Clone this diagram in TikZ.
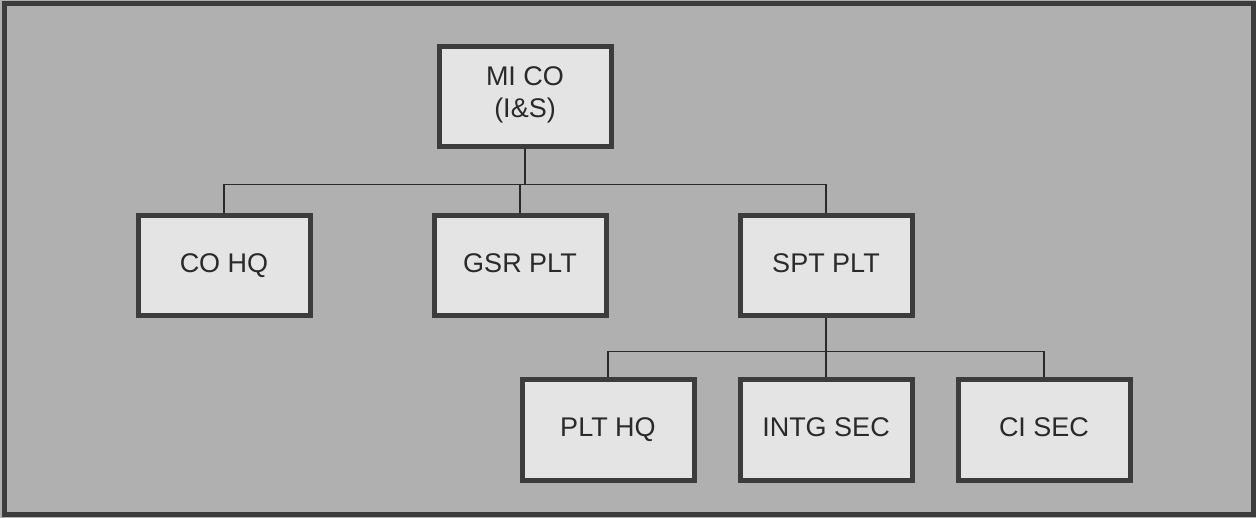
\documentclass[tikz,border=0pt]{standalone}
\usepackage{fontspec}
\setmainfont{Liberation Sans}
\usepackage{tikz}
\usetikzlibrary{calc,positioning}
\definecolor{bggray}{HTML}{B0B0B0}
\definecolor{boxfill}{HTML}{E4E4E4}
\definecolor{boxedge}{HTML}{3C3C3C}
\definecolor{inkgray}{HTML}{2A2A2A}
\tikzstyle{unit} = [rectangle, draw=boxedge, fill=boxfill, line width=5pt,
                    minimum width=172pt, minimum height=100pt, inner sep=0pt,
                    text=inkgray, align=center, font=\fontsize{27}{32}\selectfont,
                    execute at begin node=\strut]
\tikzstyle{link} = [draw=inkgray, line width=1.5pt]
\begin{document}
\begin{tikzpicture}[x=1pt, y=-1pt, node distance=296pt]
		\fill[bggray] (0,0) rectangle (1256,518);
		\draw[boxedge, line width=5pt] (4,4) rectangle (1253,514);

		\node[unit] (mico) at (525,97) {MI CO\\(I\&S)};
		\node[unit] (gsr) at (520,266) {GSR PLT};
		\node[unit, left of=gsr] (cohq) {CO HQ};
		\node[unit, right of=gsr, xshift=10pt] (spt) {SPT PLT};
		\node[unit] (intg) at (826,430) {INTG SEC};
		\node[unit, left of=intg, node distance=218pt] (plthq) {PLT HQ};
		\node[unit, right of=intg, node distance=218pt] (cisec) {CI SEC};

		\draw[link] (mico.south) --++(0,35) -| (cohq.north);
		\draw[link] (mico.south) --++(0,35) -| (gsr.north);
		\draw[link] (mico.south) --++(0,35) -| (spt.north);
		\draw[link] (spt.south) --++(0,33) -| (plthq.north);
		\draw[link] (spt.south) --++(0,33) -| (intg.north);
		\draw[link] (spt.south) --++(0,33) -| (cisec.north);
	\end{tikzpicture}
\end{document}
